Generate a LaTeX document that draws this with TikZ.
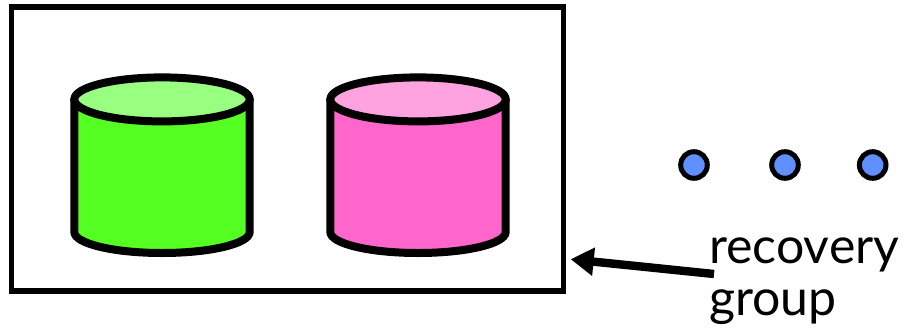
\documentclass[tikz,border=0pt]{standalone}
\usepackage{fontspec}
\setmainfont{Lato}
\usetikzlibrary{arrows.meta}
\definecolor{greenbody}{HTML}{55FF22}
\definecolor{greentop}{HTML}{99FF80}
\definecolor{pinkbody}{HTML}{FF66CC}
\definecolor{pinktop}{HTML}{FFA3E0}
\definecolor{dotblue}{HTML}{6090FF}
\tikzset{
  boxstyle/.style={draw=black,line width=5.4pt,fill=white,inner sep=0pt,minimum width=552.5pt,minimum height=284pt},
  cyl/.style={draw=black,line width=8pt,line join=round},
  dotstyle/.style={circle,draw=black,line width=5pt,fill=dotblue,inner sep=0pt,minimum size=26.6pt},
  lbl/.style={inner sep=0pt,font=\fontsize{50}{58}\selectfont,anchor=base west,align=left},
  pointer/.style={line width=8.4pt,-{Triangle[length=23pt,width=27pt]}}
}
\newcommand{\drum}[3]{%
  \path[cyl,fill=#2] (#1-87.7,99.4) -- (#1-87.7,232) arc[start angle=180,end angle=360,x radius=87.7,y radius=-21] -- (#1+87.7,99.4) -- cycle;
  \path[cyl,fill=#3] (#1,99.4) ellipse[x radius=87.7,y radius=22];
}
\begin{document}
\begin{tikzpicture}[x=1pt,y=-1pt]
\useasboundingbox (0,0) rectangle (907,327);
\node[boxstyle] (group) at (287.5,148.8) {};
\drum{162}{greenbody}{greentop}
\drum{418}{pinkbody}{pinktop}
\node[dotstyle] (d1) at (694,165) {};
\node[dotstyle] (d2) at (785,165) {};
\node[dotstyle] (d3) at (872.7,165) {};
\node[lbl] (l1) at (709,263) {recovery};
\node[lbl] (l2) at (709,315) {group};
\coordinate (from) at (714,274);
\coordinate (tip) at (570.7,259.3);
\draw[pointer] (from) -- (tip);
\end{tikzpicture}
\end{document}
